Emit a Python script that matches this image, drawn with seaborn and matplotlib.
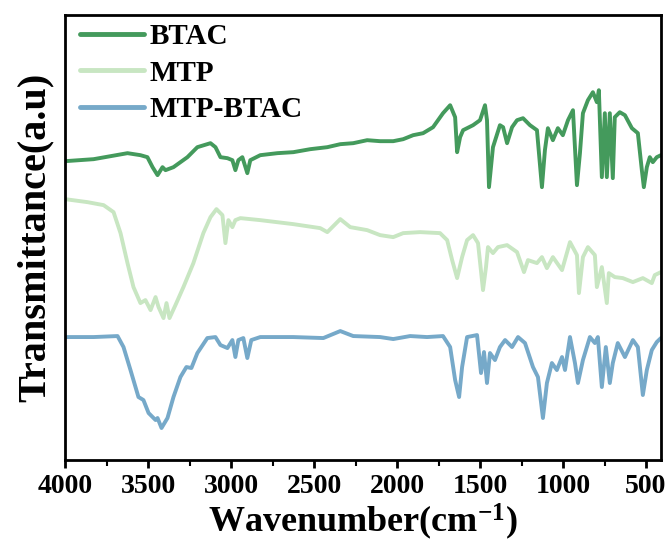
import pandas as pd
import matplotlib.pyplot as plt
import seaborn as sns
from matplotlib.ticker import MultipleLocator

# wavenumber (cm-1) and transmittance (a.u., offset traces)
btac_wn = [4000, 3828, 3726, 3624, 3546, 3504, 3473, 3443, 3413, 3395, 3347, 3263,
           3203, 3124, 3094, 3064, 3022, 2992, 2974, 2956, 2932, 2902, 2884, 2824,
           2721, 2625, 2523, 2420, 2342, 2264, 2180, 2102, 2023, 1963, 1903, 1843,
           1783, 1723, 1680, 1650, 1638, 1620, 1602, 1578, 1542, 1500, 1470, 1458,
           1446, 1422, 1380, 1361, 1337, 1307, 1277, 1241, 1199, 1157, 1127, 1109,
           1091, 1061, 1031, 1001, 970, 940, 916, 898, 880, 850, 820, 796, 784, 766,
           748, 736, 718, 700, 688, 658, 627, 585, 549, 525, 513, 495, 477, 459,
           435, 410]
btac_t = [299, 301, 304, 307, 305, 303, 293, 285, 293, 290, 293, 303,
          313, 317, 313, 303, 302, 300, 290, 300, 303, 287, 300, 305,
          307, 308, 311, 313, 316, 317, 320, 319, 319, 321, 325, 327,
          333, 347, 355, 343, 308, 323, 330, 332, 335, 340, 355, 340,
          273, 313, 335, 333, 317, 333, 340, 342, 335, 330, 273, 310,
          332, 320, 332, 325, 340, 350, 275, 307, 347, 360, 368, 358, 370, 283,
          347, 283, 347, 282, 343, 348, 345, 332, 327, 290, 273, 293, 303, 298,
          303, 305]

mtp_wn = [4000, 3865, 3768, 3708, 3666, 3624, 3588, 3546, 3516, 3485, 3455, 3437,
          3407, 3389, 3371, 3335, 3287, 3227, 3167, 3124, 3088, 3052, 3034, 3016,
          2992, 2974, 2944, 2824, 2625, 2463, 2420, 2342, 2282, 2180, 2102, 2023,
          1963, 1861, 1741, 1698, 1668, 1638, 1608, 1578, 1542, 1512, 1482, 1464,
          1452, 1422, 1392, 1337, 1277, 1235, 1211, 1157, 1127, 1097, 1061, 1006,
          958, 916, 904, 880, 850, 808, 796, 766, 736, 724, 688, 640, 579, 519,
          465, 447, 410]
mtp_t = [261, 258, 255, 248, 227, 197, 173, 157, 160, 150, 163, 153,
         142, 157, 142, 155, 173, 197, 227, 243, 251, 245, 217, 240,
         233, 240, 242, 240, 236, 232, 228, 241, 233, 230, 225, 223,
         227, 228, 227, 220, 200, 182, 203, 220, 225, 217, 170, 193,
         213, 207, 213, 215, 208, 188, 200, 197, 203, 192, 203, 190,
         218, 205, 167, 203, 213, 205, 173, 193, 157, 187, 183, 182, 178, 182,
         177, 185, 188]

mix_wn = [4000, 3828, 3684, 3648, 3606, 3558, 3528, 3497, 3455, 3443, 3419, 3383,
          3347, 3305, 3269, 3239, 3203, 3143, 3094, 3064, 3022, 2992, 2974, 2956,
          2926, 2902, 2878, 2824, 2625, 2444, 2342, 2264, 2102, 2023, 1921, 1819,
          1723, 1680, 1650, 1626, 1608, 1578, 1518, 1494, 1476, 1458, 1440, 1410,
          1380, 1349, 1307, 1271, 1229, 1181, 1151, 1121, 1097, 1067, 1037, 1006,
          988, 958, 928, 910, 880, 838, 808, 790, 766, 742, 718, 700, 670, 627,
          579, 549, 519, 495, 465, 435, 410]
mix_t = [123, 123, 124, 113, 90, 63, 60, 47, 40, 42, 32, 42,
         63, 83, 93, 92, 107, 122, 123, 115, 112, 120, 103, 120,
         122, 102, 120, 123, 123, 122, 129, 124, 123, 121, 124, 123,
         124, 113, 80, 63, 93, 123, 125, 87, 108, 77, 107, 100,
         113, 120, 113, 123, 117, 93, 83, 42, 77, 97, 90, 103,
         90, 123, 97, 77, 100, 123, 117, 123, 73, 113, 77, 97, 117, 103,
         120, 113, 65, 90, 110, 118, 122]

labels = ["BTAC", "MTP", "MTP-BTAC"]
colors = ["#449a5c", "#c8e6c2", "#76a9c9"]

df = pd.concat([
    pd.DataFrame({"wn": btac_wn, "t": btac_t, "sample": labels[0]}),
    pd.DataFrame({"wn": mtp_wn, "t": mtp_t, "sample": labels[1]}),
    pd.DataFrame({"wn": mix_wn, "t": mix_t, "sample": labels[2]}),
])

sns.set_style("ticks")
plt.rcParams["font.family"] = ["Liberation Serif", "DejaVu Serif"]
plt.rcParams["font.weight"] = "bold"
plt.rcParams["mathtext.fontset"] = "custom"
plt.rcParams["mathtext.rm"] = "Liberation Serif:bold"
plt.rcParams["mathtext.bf"] = "Liberation Serif:bold"
plt.rcParams["mathtext.default"] = "bf"
for key in ["text.color", "axes.labelcolor", "xtick.color", "ytick.color"]:
    plt.rcParams[key] = "black"

fig = plt.figure(figsize=(6.71, 5.45), dpi=100)
ax = fig.add_axes([0.097, 0.156, 0.888, 0.816])

sns.lineplot(data=df, x="wn", y="t", hue="sample", palette=colors,
             sort=False, estimator=None, linewidth=2.8, ax=ax)

ax.set_xlim(4000, 410)
ax.set_ylim(0, 445)
ax.set_yticks([])
ax.xaxis.set_major_locator(MultipleLocator(500))
ax.xaxis.set_minor_locator(MultipleLocator(250))
ax.tick_params(axis="x", which="major", length=6, width=2, labelsize=20, pad=4)
ax.tick_params(axis="x", which="minor", length=4, width=1.5)
for lab in ax.get_xticklabels():
    lab.set_fontweight("bold")
for sp in ax.spines.values():
    sp.set_visible(True)
    sp.set_linewidth(2)
    sp.set_color("black")

ax.set_xlabel("Wavenumber(cm$^{-1}$)", fontsize=26, fontweight="bold", labelpad=2)
ax.set_ylabel("Transmittance(a.u)", fontsize=29, fontweight="bold", labelpad=8)

leg = ax.legend(loc="upper left", bbox_to_anchor=(0.005, 1.008), frameon=False,
                handlelength=2.2, handletextpad=0.2, labelspacing=0.32,
                borderaxespad=0, prop={"weight": "bold", "size": 21})
for line in leg.get_lines():
    line.set_linewidth(3.5)

fig.savefig("out.png", dpi=100)
